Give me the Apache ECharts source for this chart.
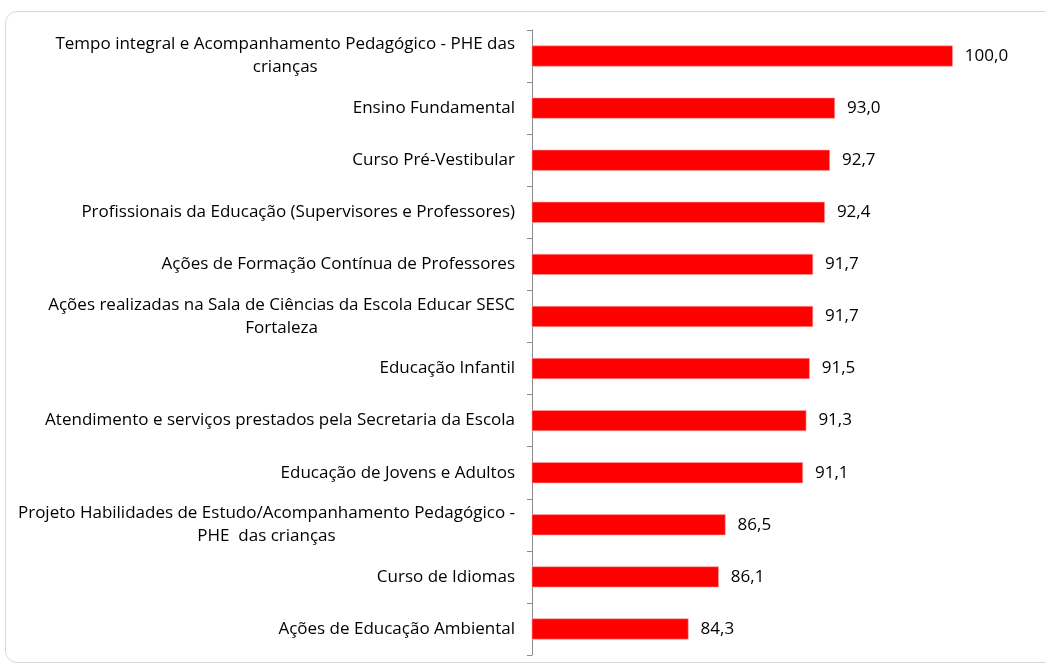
<!DOCTYPE html>
<html>
<head>
<meta charset="utf-8">
<script src="https://cdn.jsdelivr.net/npm/echarts@6/dist/echarts.min.js"></script>
<style>
  html, body { margin: 0; padding: 0; background: #fff; overflow: hidden; }
  #frame {
    position: absolute; left: 5px; top: 11px; width: 1080px; height: 650px;
    border: 1px solid #d9d9d9; border-radius: 12px;
  }
  #main { position: absolute; left: 0; top: 0; width: 1046px; height: 666px; }
</style>
</head>
<body>
<div id="frame"></div>
<div id="main"></div>
<script>
const categories = [
  "Tempo integral e Acompanhamento Pedagógico - PHE das\ncrianças",
  "Ensino Fundamental",
  "Curso Pré-Vestibular",
  "Profissionais da Educação (Supervisores e Professores)",
  "Ações de Formação Contínua de Professores",
  "Ações realizadas na Sala de Ciências da Escola Educar SESC\nFortaleza",
  "Educação Infantil",
  "Atendimento e serviços prestados pela Secretaria da Escola",
  "Educação de Jovens e Adultos",
  "Projeto Habilidades de Estudo/Acompanhamento Pedagógico -\nPHE  das crianças",
  "Curso de Idiomas",
  "Ações de Educação Ambiental"
]

const values = [100.0, 93.0, 92.7, 92.4, 91.7, 91.7, 91.5, 91.3, 91.1, 86.5, 86.1, 84.3]

const fontFamily = "Open Sans"
const fontSize = 17

let chart = echarts.init(document.getElementById("main"))

chart.setOption({
  animation: false,
  backgroundColor: "transparent",
  textStyle: { fontFamily: fontFamily },
  grid: {
    left: 532,
    right: 9,
    top: 30,
    bottom: 11,
  },
  xAxis: {
    type: "value",
    min: 75,
    max: 105,
    show: false,
  },
  yAxis: {
    type: "category",
    inverse: true,
    data: categories,
    axisLine: { show: true, lineStyle: { color: "#8c8c8c", width: 1 } },
    axisTick: { show: true, length: 5, lineStyle: { color: "#8c8c8c", width: 1 } },
    axisLabel: {
      margin: 17,
      color: "#000",
      fontSize: fontSize,
      fontFamily: fontFamily,
      lineHeight: 23,
      formatter: (value) => value.split("\n").map((s) => "{c|" + s + "}").join("\n"),
      rich: {
        c: { align: "center", fontSize: fontSize, lineHeight: 23, fontFamily: fontFamily, color: "#000" },
      },
    },
  },
  series: [
    {
      type: "bar",
      data: values,
      barWidth: 21,
      itemStyle: { color: "#ff0000", borderColor: "#f7a6a6", borderWidth: 0.6 },
      label: {
        show: true,
        position: "right",
        distance: 12,
        color: "#000",
        fontSize: fontSize,
        fontFamily: fontFamily,
        formatter: (p) => p.value.toFixed(1).replace(".", ","),
      },
    },
  ],
})
</script>
</body>
</html>
